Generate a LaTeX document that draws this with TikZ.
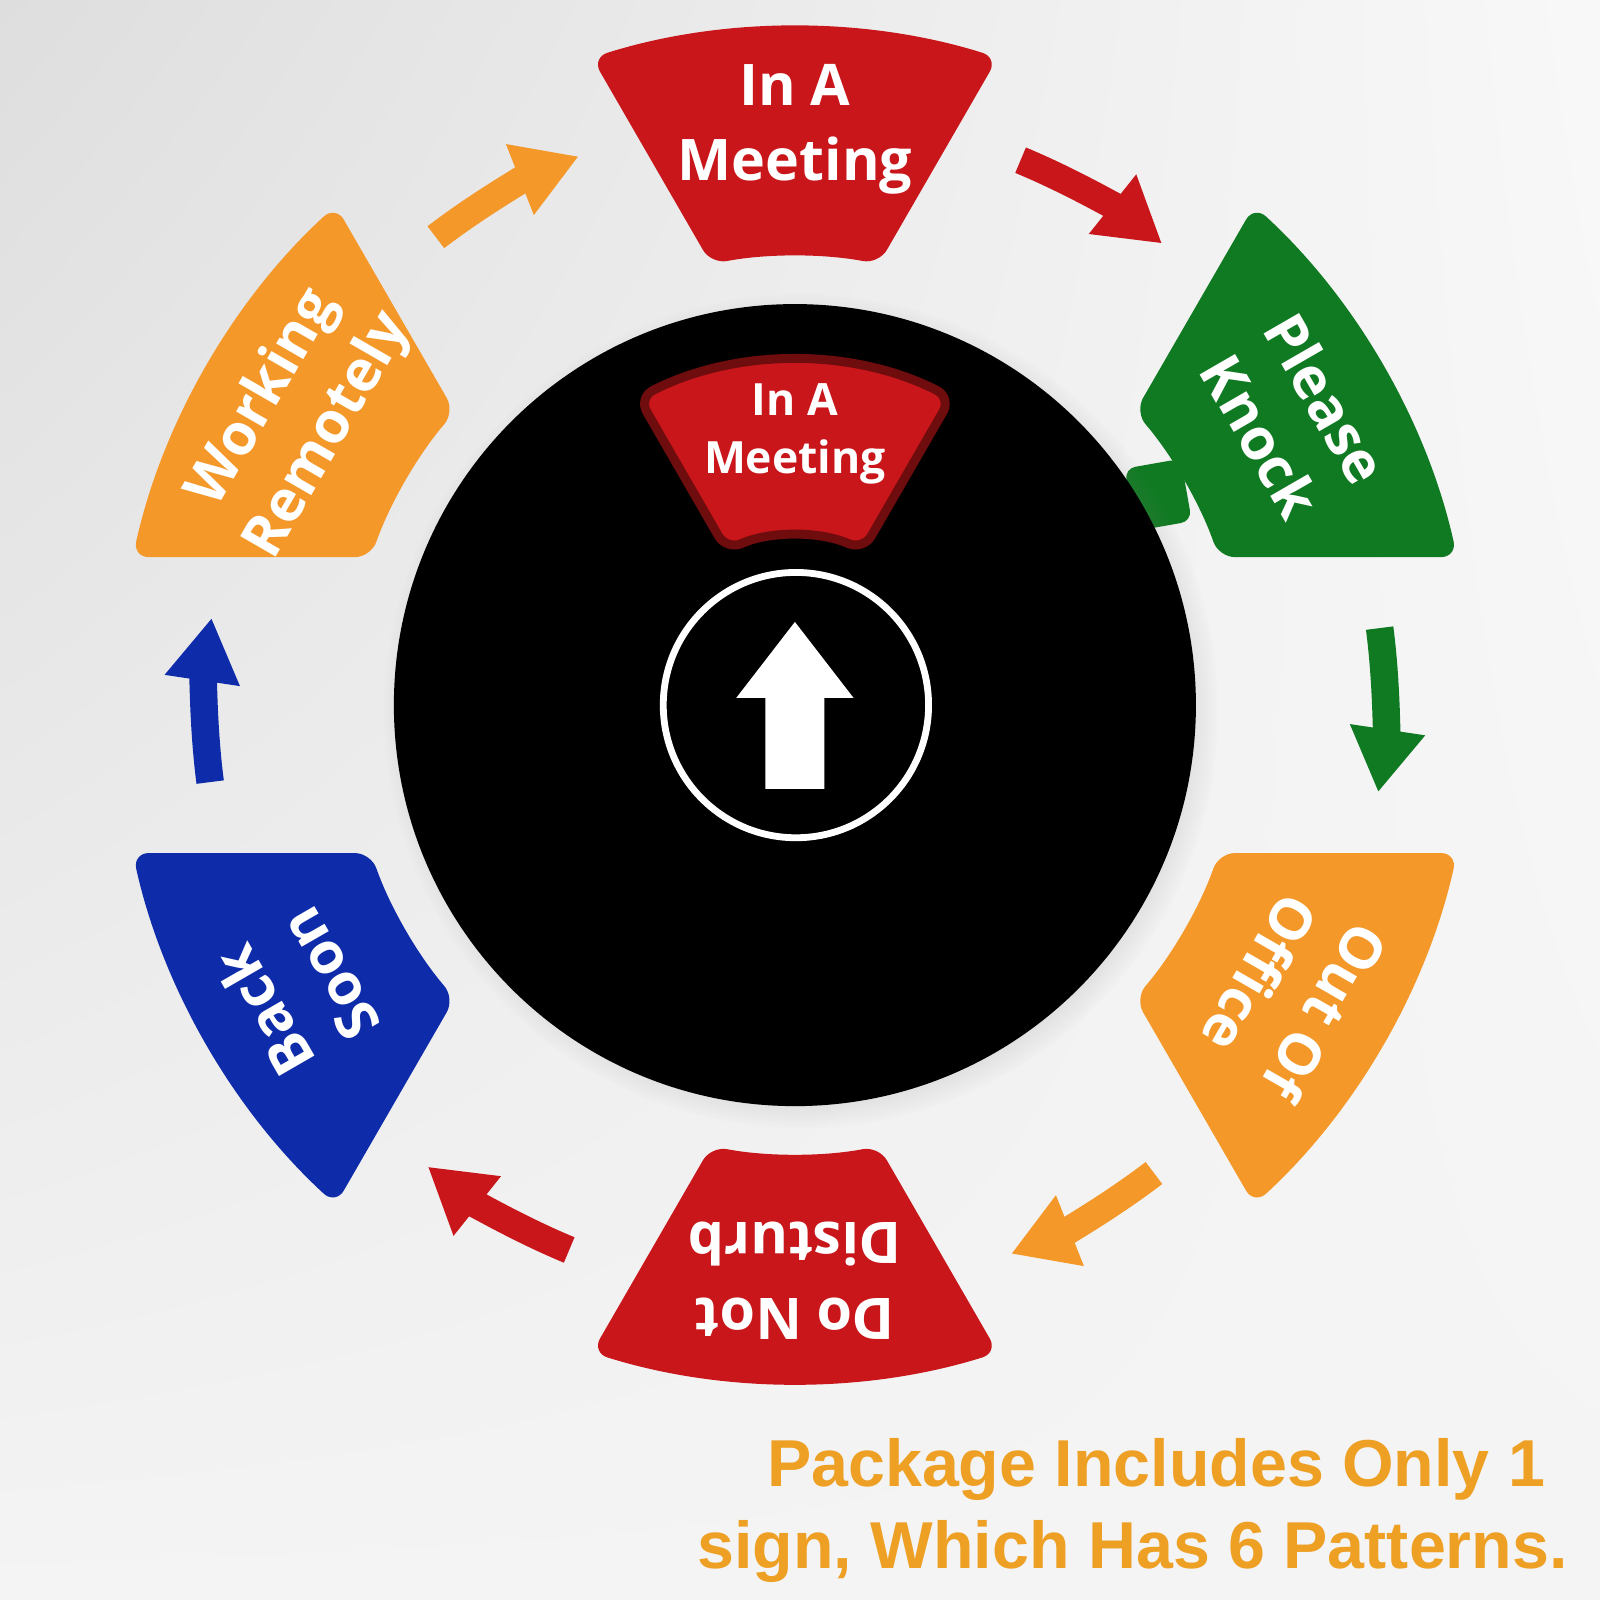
\documentclass[tikz,border=0pt]{standalone}
\usepackage{fontspec}
\setmainfont{Open Sans}
\newfontfamily\notefont{Liberation Sans}
\usetikzlibrary{arrows.meta,shadings,shadows}
\definecolor{signred}{RGB}{200,22,26}
\definecolor{signgreen}{RGB}{16,122,34}
\definecolor{signorange}{RGB}{245,152,42}
\definecolor{signblue}{RGB}{14,44,170}
\definecolor{noteorange}{RGB}{238,160,36}
\definecolor{bgpaper}{RGB}{244,244,244}
\definecolor{bgsilk}{RGB}{222,222,222}

\begin{document}
\begin{tikzpicture}[
  segment/.style={fill=#1, rounded corners=4.5pt},
  seglabel/.style={text=white, align=center, inner sep=0pt,
                   font=\bfseries\fontsize{16}{21}\selectfont},
  winlabel/.style={text=white, align=center, inner sep=0pt,
                   font=\bfseries\fontsize{12.4}{16.3}\selectfont},
  flowarr/.style={draw=#1, line width=0.27cm, -{Triangle[width=0.70cm,length=0.62cm]}},
  note/.style={text=noteorange, align=right, inner sep=0pt,
               font=\notefont\bfseries\fontsize{18.5}{22.8}\selectfont}
]
  % background
  \shade[upper left=bgsilk, upper right=bgpaper!60!white,
         lower left=bgpaper, lower right=bgpaper] (-7.79,-8.77) rectangle (7.89,6.91);
  \useasboundingbox (-7.79,-8.77) rectangle (7.89,6.91);

  % outer ring of six signs, with the arrow to the next one
  \pgfmathsetmacro\ao{60+asin(1.45/6.65)}
  \pgfmathsetmacro\ai{60+asin(1.45/4.40)}
  \foreach \txt/\col/\rot [count=\k] in {{In A\\Meeting}/signred/0,
                                          {Please\\Knock}/signgreen/-60,
                                          {Out Of\\Office}/signorange/-120,
                                          {Do Not\\Disturb}/signred/180,
                                          {Back\\Soon}/signblue/120,
                                          {Working\\Remotely}/signorange/60}{
    \begin{scope}[rotate=\rot]
      \fill[segment=\col] (\ao:6.65) arc[start angle=\ao, end angle=180-\ao, radius=6.65]
        -- (180-\ai:4.40) arc[start angle=180-\ai, end angle=\ai, radius=4.40] -- cycle;
      \node[seglabel, rotate=\rot] (sign\k) at (90:5.64) {\txt};
      \draw[flowarr=\col] (67.5:5.78) arc[start angle=67.5, end angle=51.5, radius=5.78];
    \end{scope}
  }

  % dial
  \node[fill=signgreen, rounded corners=3pt, rotate=10, minimum width=0.56cm,
        minimum height=0.62cm, inner sep=0pt] (tab) at (3.56,2.06) {};
  \node[circle, fill=black, minimum size=7.86cm, inner sep=0pt,
        circular drop shadow={shadow scale=1.04, opacity=0.35}] (dial) at (0,0) {};

  % window
  \pgfmathsetmacro\wo{60+asin(0.18/3.38)}
  \pgfmathsetmacro\wi{60+asin(0.18/1.66)}
  \fill[segment=signred, draw=signred!55!black, line width=2.5pt]
    (\wo:3.38) arc[start angle=\wo, end angle=180-\wo, radius=3.38]
    -- (180-\wi:1.66) arc[start angle=180-\wi, end angle=\wi, radius=1.66] -- cycle;
  \node[winlabel] (window) at (0,2.66) {In A\\Meeting};

  % pointer
  \node[circle, draw=white, line width=1.9pt, minimum size=2.6cm, inner sep=0pt] (hub) at (0.01,0) {};
  \fill[white] (0,0.815) -- (0.575,0.07) -- (0.29,0.07) -- (0.29,-0.82)
    -- (-0.29,-0.82) -- (-0.29,0.07) -- (-0.575,0.07) -- cycle;

  \node[note, anchor=north east] (note) at (7.58,-7.18)
    {Package Includes Only 1\hspace*{0.22cm}\\sign, Which Has 6 Patterns.};
\end{tikzpicture}
\end{document}
